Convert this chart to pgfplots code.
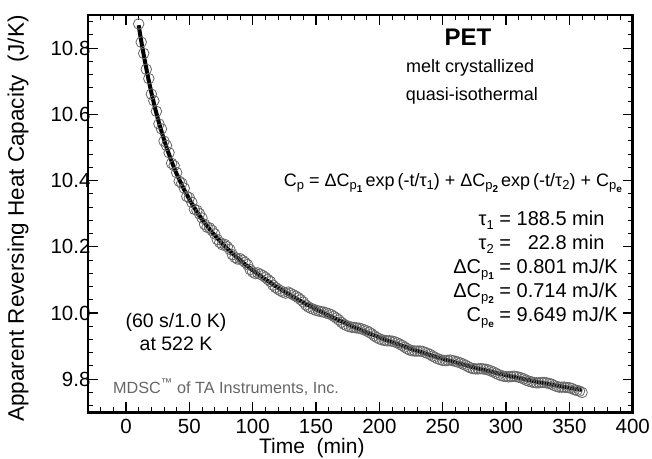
\documentclass[border=0pt]{standalone}
\usepackage{pgfplots}
\pgfplotsset{compat=1.18}
\usepackage{fontspec}
\setmainfont{Liberation Sans}
\newcommand{\sbx}[1]{\raisebox{-0.35ex}{\fontsize{13}{13}\selectfont #1}}
\newcommand{\ssbx}[1]{\raisebox{-0.35ex}{\fontsize{10}{10}\selectfont\bfseries #1}}
\newcommand{\Cp}[1]{C\sbx{p\ssbx{#1}}}
\begin{document}
\begin{tikzpicture}
\begin{axis}[
  scale only axis, width=544.7pt, height=397.3pt,
  xmin=-30, xmax=400, ymin=9.7, ymax=10.9,
  xtick={0,50,...,400}, ytick={9.8,10,10.2,10.4,10.6,10.8},
  minor xtick={-20,-10,...,390}, minor ytick={9.72,9.76,...,10.89},
  tick align=inside,
  major tick length=10pt, minor tick length=5pt,
  axis line style={line width=2.5pt},
  major tick style={black, line width=1.2pt},
  minor tick style={black, line width=1.0pt},
  /pgf/number format/assume math mode=true,
  tick label style={font=\fontsize{20.5}{24}\selectfont},
  yticklabel style={/pgf/number format/.cd,fixed,fixed zerofill,precision=1,/tikz/.cd,xshift=6pt},
  xticklabel style={inner sep=0pt, yshift=-7pt},
  xlabel={Time\ \ (min)},
  ylabel={Apparent Reversing Heat Capacity\ \ (J/K)},
  label style={font=\fontsize{22.5}{26}\selectfont, inner sep=0pt},
  xlabel style={font=\fontsize{21}{25}\selectfont, at={(axis description cs:0.411,-0.1139)}, anchor=south},
  ylabel style={at={(axis description cs:-0.1285,0.488)}, anchor=center},
]
\addplot[only marks, mark=o, mark size=5.3pt, mark options={line width=0.8pt, draw=black!60}] coordinates {
(10,10.873) (12,10.818) (14,10.784) (16,10.736) (18,10.708) (20,10.661) (22,10.641) (24,10.609)
(26,10.571) (28,10.556) (30,10.519) (32,10.506) (34,10.484) (36,10.452) (38,10.445) (40,10.424)
(42,10.398) (44,10.392) (46,10.377) (48,10.352) (50,10.348) (52,10.334) (54,10.313) (56,10.310)
(58,10.300) (60,10.287) (62,10.268) (64,10.259) (66,10.257) (68,10.249) (70,10.239) (72,10.222)
(74,10.213) (76,10.206) (78,10.207) (80,10.200) (82,10.192) (84,10.176) (86,10.168) (88,10.163)
(90,10.164) (92,10.159) (94,10.153) (96,10.146) (98,10.131) (100,10.124) (102,10.119) (104,10.121)
(106,10.117) (108,10.113) (110,10.108) (112,10.101) (114,10.095) (116,10.084) (118,10.077) (120,10.072)
(122,10.067) (124,10.063) (126,10.060) (128,10.063) (130,10.059) (132,10.055) (134,10.051) (136,10.046)
(138,10.040) (140,10.033) (142,10.024) (144,10.018) (146,10.014) (148,10.011) (150,10.008) (152,10.006)
(154,10.004) (156,10.003) (158,10.000) (160,9.998) (162,9.995) (164,9.990) (166,9.985) (168,9.979)
(170,9.972) (172,9.966) (174,9.962) (176,9.959) (178,9.957) (180,9.956) (182,9.955) (184,9.954)
(186,9.952) (188,9.949) (190,9.946) (192,9.942) (194,9.937) (196,9.931) (198,9.926) (200,9.922)
(202,9.919) (204,9.917) (206,9.916) (208,9.916) (210,9.915) (212,9.913) (214,9.910) (216,9.906)
(218,9.902) (220,9.897) (222,9.892) (224,9.888) (226,9.886) (228,9.885) (230,9.885) (232,9.885)
(234,9.884) (236,9.881) (238,9.878) (240,9.875) (242,9.870) (244,9.866) (246,9.862) (248,9.859)
(250,9.857) (252,9.856) (254,9.857) (256,9.858) (258,9.856) (260,9.854) (262,9.852) (264,9.849)
(266,9.846) (268,9.842) (270,9.838) (272,9.834) (274,9.832) (276,9.831) (278,9.831) (280,9.832)
(282,9.831) (284,9.830) (286,9.828) (288,9.825) (290,9.822) (292,9.818) (294,9.814) (296,9.811)
(298,9.809) (300,9.808) (302,9.807) (304,9.808) (306,9.809) (308,9.808) (310,9.806) (312,9.804)
(314,9.801) (316,9.797) (318,9.794) (320,9.792) (322,9.790) (324,9.789) (326,9.789) (328,9.790)
(330,9.790) (332,9.789) (334,9.787) (336,9.785) (338,9.781) (340,9.778) (342,9.776) (344,9.776)
(346,9.776) (348,9.775) (350,9.774) (352,9.772) (354,9.768) (356,9.766) (358,9.764) (360,9.760)
};
\addplot[black, line width=4pt, line join=round] coordinates {
(10,10.869) (11,10.845) (12,10.822) (13,10.800) (14,10.779) (15,10.759) (16,10.739) (17,10.720)
(18,10.701) (19,10.684) (20,10.666) (21,10.650) (22,10.634) (23,10.618) (24,10.603) (25,10.589)
(26,10.575) (27,10.562) (28,10.549) (29,10.536) (30,10.524) (31,10.512) (32,10.500) (33,10.489)
(34,10.479) (35,10.468) (36,10.458) (37,10.448) (38,10.439) (39,10.429) (40,10.420)
(45,10.3791) (50,10.3431) (55,10.3113) (60,10.2830) (65,10.2577) (70,10.2347) (75,10.2137)
(80,10.1944) (85,10.1764) (90,10.1597) (95,10.1440) (100,10.1291) (105,10.1150) (110,10.1016)
(115,10.0888) (120,10.0765) (125,10.0647) (130,10.0533) (135,10.0423) (140,10.0317) (145,10.0214)
(150,10.0114) (155,10.0018) (160,9.9924) (165,9.9833) (170,9.9745) (175,9.9659) (180,9.9575)
(185,9.9494) (190,9.9415) (195,9.9338) (200,9.9263) (205,9.9191) (210,9.9120) (215,9.9051)
(220,9.8984) (225,9.8918) (230,9.8854) (235,9.8793) (240,9.8732) (245,9.8674) (250,9.8616)
(255,9.8561) (260,9.8507) (265,9.8454) (270,9.8402) (275,9.8352) (280,9.8304) (285,9.8256)
(290,9.8210) (295,9.8165) (300,9.8121) (305,9.8078) (310,9.8037) (315,9.7996) (320,9.7957)
(325,9.7918) (330,9.7881) (335,9.7845) (340,9.7809) (345,9.7775) (350,9.7741) (355,9.7708) (360,9.7676)
};
\node[font=\bfseries\fontsize{24}{28}\selectfont] at (axis cs:270,10.834) {PET};
\node[font=\fontsize{18}{22}\selectfont] at (axis cs:271.6,10.740) {melt crystallized};
\node[font=\fontsize{18}{22}\selectfont] at (axis cs:273.1,10.655) {quasi-isothermal};
\node[font=\fontsize{18}{22}\selectfont, anchor=east, inner sep=0pt] at (axis cs:391.6,10.393)
  {\Cp{} = Δ\Cp{1}\,exp\,(-t/τ\sbx{1}) + Δ\Cp{2}\,exp\,(-t/τ\sbx{2}) + \Cp{e}};
\node[font=\fontsize{20}{24}\selectfont, anchor=east, inner sep=0pt] at (axis cs:388.4,10.134)
  {\begin{tabular}{@{}r@{ = }l@{}}
   τ\sbx{1} & 188.5 min\\
   τ\sbx{2} & \phantom{1}22.8 min\\
   Δ\Cp{1} & 0.801 mJ/K\\
   Δ\Cp{2} & 0.714 mJ/K\\
   \Cp{e} & 9.649 mJ/K
   \end{tabular}};
\node[font=\fontsize{19.5}{23}\selectfont, align=center] at (axis cs:39.5,9.941) {(60 s/1.0 K)\\at 522 K};
\node[font=\fontsize{16.2}{19}\selectfont, text=black!60, anchor=west, inner sep=0pt] at (axis cs:-10.3,9.776)
  {MDSC\textsuperscript{™} of TA Instruments, Inc.};
\end{axis}
\pgfresetboundingbox
\useasboundingbox (-88pt,-45.7pt) rectangle (564pt,412.3pt);
\end{tikzpicture}
\end{document}
